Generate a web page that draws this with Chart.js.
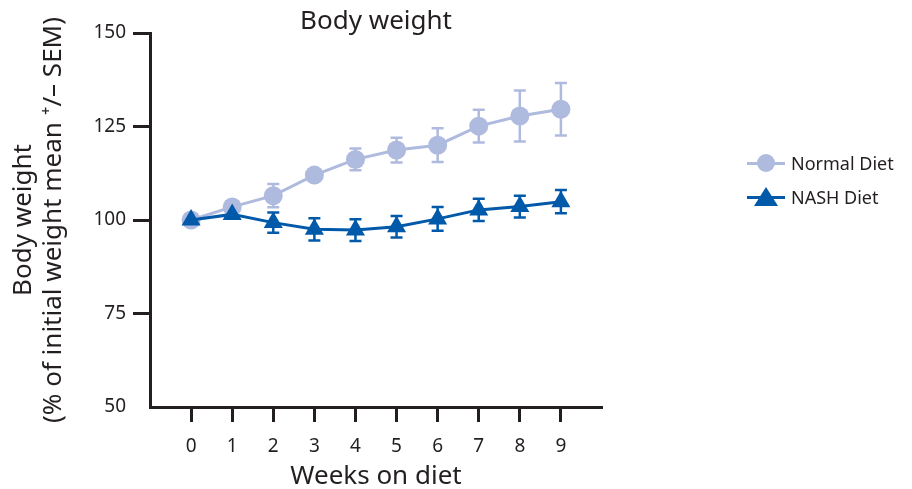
<!DOCTYPE html>
<html>
<head>
<meta charset="utf-8">
<script src="https://cdn.jsdelivr.net/npm/chart.js@4"></script>
<style>
  body { margin: 0; background: #fff; }
  #wrap { position: relative; width: 912px; height: 489px; }
  #legend { position: absolute; left: 747px; top: 146px; font-family: "Noto Sans", sans-serif; font-size: 18px; color: #231f20; }
  .row { display: flex; align-items: center; height: 34px; }
  .key { position: relative; width: 38px; height: 26px; margin-right: 6px; }
  .key .ln { position: absolute; left: 0; right: 0; top: 11.5px; height: 3px; }
  .key .dot { position: absolute; left: 10px; top: 4px; width: 18px; height: 18px; border-radius: 50%; }
  .key .tri { position: absolute; left: 7px; top: 3px; width: 0; height: 0; border-left: 12px solid transparent; border-right: 12px solid transparent; }
</style>
</head>
<body>
<div id="wrap">
  <canvas id="chart" width="912" height="489"></canvas>
  <div id="legend"></div>
</div>
<script>
// data
const weeks = [0, 1, 2, 3, 4, 5, 6, 7, 8, 9];
const normalDiet = [100, 103.5, 106.5, 112, 116.2, 118.7, 120, 125.1, 127.8, 129.6];
const normalSem = [0.5, 1, 3.1, 1, 2.9, 3.3, 4.5, 4.4, 6.8, 7.0];
const nashDiet = [100, 101.5, 99.3, 97.5, 97.3, 98.2, 100.3, 102.7, 103.6, 104.9];
const nashSem = [0.5, 0.8, 2.7, 3.0, 2.9, 2.9, 3.2, 3.0, 2.9, 3.1];
const yTicks = [50, 75, 100, 125, 150];

const ink = '#231f20';
const lightBlue = '#afbadf';
const darkBlue = '#0059a9';

function toPoints(vals) {
    return weeks.map((w, i) => ({ x: w, y: vals[i] }));
}

// draws the +/- SEM bars under the lines
const errorBars = {
    id: 'errorBars',
    beforeDatasetsDraw(chart) {
        const ctx = chart.ctx;
        const yScale = chart.scales.y;
        chart.data.datasets.forEach((ds, di) => {
            const meta = chart.getDatasetMeta(di);
            ctx.save();
            ctx.strokeStyle = ds.borderColor;
            ctx.lineWidth = 2.5;
            meta.data.forEach((pt, i) => {
                const v = ds.data[i].y;
                const e = ds.sem[i];
                const top = yScale.getPixelForValue(v + e);
                const bot = yScale.getPixelForValue(v - e);
                ctx.beginPath();
                ctx.moveTo(pt.x, top); ctx.lineTo(pt.x, bot);
                ctx.moveTo(pt.x - 6, top); ctx.lineTo(pt.x + 6, top);
                ctx.moveTo(pt.x - 6, bot); ctx.lineTo(pt.x + 6, bot);
                ctx.stroke();
            });
            ctx.restore();
        });
    }
};

const chart = new Chart(document.getElementById('chart'), {
    type: 'line',
    data: {
        datasets: [{
            label: 'Normal Diet',
            data: toPoints(normalDiet),
            sem: normalSem,
            borderColor: lightBlue,
            backgroundColor: lightBlue,
            borderWidth: 3,
            pointStyle: 'circle',
            pointRadius: 9.5,
            pointBorderWidth: 0,
            order: 1
        }, {
            label: 'NASH Diet',
            data: toPoints(nashDiet),
            sem: nashSem,
            borderColor: darkBlue,
            backgroundColor: darkBlue,
            borderWidth: 3,
            pointStyle: 'triangle',
            pointRadius: 11,
            pointBorderWidth: 0,
            order: 0
        }]
    },
    options: {
        responsive: false,
        animation: false,
        layout: { padding: { left: 0, right: 310, top: 0, bottom: 0 } },
        plugins: {
            legend: { display: false },
            tooltip: { enabled: false }
        },
        scales: {
            // top axis only carries the chart title, centred over the plot
            top: {
                type: 'linear',
                position: 'top',
                min: -1,
                max: 10,
                afterFit: axis => { axis.height = 33; },
                ticks: { display: false },
                grid: { display: false },
                border: { display: false },
                title: {
                    display: true,
                    text: 'Body weight',
                    color: ink,
                    font: { family: 'Noto Sans', size: 26 },
                    padding: { top: 6, bottom: 0 }
                }
            },
            x: {
                type: 'linear',
                min: -1,
                max: 10,
                afterBuildTicks: axis => {
                    axis.ticks = weeks.map(w => ({ value: w }));
                },
                afterFit: axis => { axis.height = 82; },
                ticks: {
                    color: ink,
                    padding: 13,
                    font: { family: 'Noto Sans', size: 19 }
                },
                grid: {
                    drawOnChartArea: false,
                    drawTicks: true,
                    tickLength: 15,
                    tickWidth: 3,
                    tickColor: ink
                },
                border: { display: true, color: ink, width: 3 },
                title: {
                    display: true,
                    text: 'Weeks on diet',
                    color: ink,
                    font: { family: 'Noto Sans', size: 26 },
                    padding: { top: 0, bottom: -3 }
                }
            },
            y: {
                min: 50,
                max: 150,
                afterBuildTicks: axis => {
                    axis.ticks = yTicks.map(v => ({ value: v }));
                },
                afterFit: axis => { axis.width = 150; },
                ticks: {
                    color: ink,
                    padding: 7,
                    font: { family: 'Noto Sans', size: 19 }
                },
                grid: {
                    drawOnChartArea: false,
                    drawTicks: true,
                    tickLength: 17,
                    tickWidth: 3,
                    tickColor: c => (c.tick && c.tick.value === 50) ? 'rgba(0,0,0,0)' : ink
                },
                border: { display: true, color: ink, width: 3 },
                title: {
                    display: true,
                    text: ['Body weight', '(% of initial weight mean \u207A/\u2013 SEM)'],
                    color: ink,
                    font: { family: 'Noto Sans', size: 26, lineHeight: 1.15 },
                    padding: { top: 9, bottom: 0 }
                }
            }
        }
    },
    plugins: [errorBars]
});

// legend built from the datasets
const legend = document.getElementById('legend');
chart.data.datasets.forEach(ds => {
    const row = document.createElement('div');
    row.className = 'row';
    const key = document.createElement('div');
    key.className = 'key';
    const ln = document.createElement('div');
    ln.className = 'ln';
    ln.style.background = ds.borderColor;
    key.appendChild(ln);
    const mk = document.createElement('div');
    if (ds.pointStyle === 'triangle') {
        mk.className = 'tri';
        mk.style.borderBottom = '19px solid ' + ds.borderColor;
    } else {
        mk.className = 'dot';
        mk.style.background = ds.borderColor;
    }
    key.appendChild(mk);
    row.appendChild(key);
    const txt = document.createElement('span');
    txt.textContent = ds.label;
    row.appendChild(txt);
    legend.appendChild(row);
});
</script>
</body>
</html>
